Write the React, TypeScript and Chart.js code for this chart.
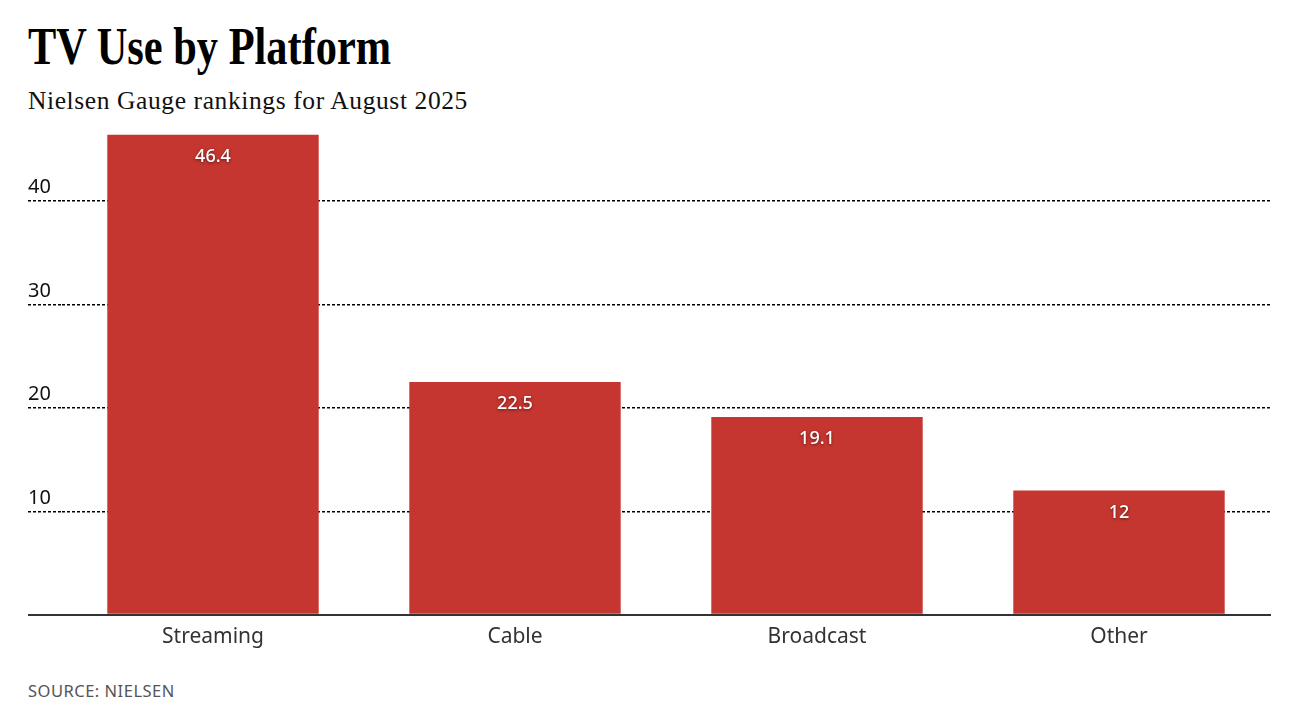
import React, { useEffect, useRef } from "react";
import { Chart, registerables } from "chart.js";

Chart.register(...registerables);

const categories = ["Streaming", "Cable", "Broadcast", "Other"];
const shares = [46.4, 22.5, 19.1, 12];
const yTickValues = [0, 10, 20, 30, 40];
const yMax = 46.4;

const BAR = "#C4362F";
const SANS = "'Noto Sans', 'Open Sans', sans-serif";

const overlayPlugin = {
  id: "overlay",
  afterDatasetsDraw(chart: any) {
    const ctx = chart.ctx;
    const meta = chart.getDatasetMeta(0);
    ctx.save();
    ctx.font = `500 18px ${SANS}`;
    ctx.fillStyle = "#ffffff";
    ctx.textAlign = "center";
    ctx.textBaseline = "middle";
    ctx.shadowColor = "rgba(0,0,0,0.55)";
    ctx.shadowBlur = 3;
    ctx.shadowOffsetY = 1;
    meta.data.forEach((el: any, i: number) => {
      ctx.fillText(String(shares[i]), el.x, el.y + 22);
    });
    ctx.restore();
  },
  afterDraw(chart: any) {
    const ctx = chart.ctx;
    const y = chart.scales.y;
    ctx.save();
    ctx.font = `400 20px ${SANS}`;
    ctx.fillStyle = "#111111";
    ctx.textAlign = "left";
    ctx.textBaseline = "middle";
    y.ticks.forEach((t: any) => {
      if (t.value > 0) ctx.fillText(String(t.value), 28, y.getPixelForValue(t.value) - 13);
    });
    ctx.restore();
  },
};

export default function App() {
  const ref = useRef<HTMLCanvasElement>(null);
  useEffect(() => {
    document.body.style.margin = "0";
    const chart = new Chart(ref.current!, {
      type: "bar",
      data: {
        labels: categories,
        datasets: [
          {
            data: shares,
            backgroundColor: BAR,
            categoryPercentage: 0.7,
            barPercentage: 1,
          },
        ],
      },
      options: {
        animation: false,
        responsive: false,
        maintainAspectRatio: false,
        layout: { padding: { left: 28, right: 40, top: 14.5, bottom: 6 } },
        plugins: { legend: { display: false }, tooltip: { enabled: false } },
        scales: {
          x: {
            z: 1,
            grid: { display: false },
            border: { display: true, color: "#333333", width: 2 },
            ticks: {
              color: "#333333",
              padding: 2,
              font: { family: SANS, size: 21 },
            },
          },
          y: {
            min: 0,
            max: yMax,
            afterBuildTicks: (scale: any) => {
              scale.ticks = yTickValues.map((v) => ({ value: v }));
            },
            ticks: { display: false },
            border: {
              display: false,
              dash: (c: any) => (c.tick && c.tick.value === 0 ? [] : [3, 2]),
            },
            grid: {
              color: (c: any) => (c.tick && c.tick.value === 0 ? "#333333" : "#000000"),
              lineWidth: (c: any) => (c.tick && c.tick.value === 0 ? 2 : 1.4),
              tickLength: 34,
              tickBorderDash: (c: any) => (c.tick && c.tick.value === 0 ? [] : [3, 2]),
            },
          },
        },
      },
      plugins: [overlayPlugin],
    });
    return () => chart.destroy();
  }, []);

  return (
    <div style={{ position: "relative", width: 1310, height: 720, background: "#fff" }}>
      <div
        style={{
          position: "absolute",
          left: 28,
          top: 14,
          fontFamily: "'Liberation Serif', 'Times New Roman', serif",
          fontWeight: 700,
          fontSize: 53,
          lineHeight: "64px",
          whiteSpace: "nowrap",
          transform: "scaleX(0.8)",
          transformOrigin: "left top",
          color: "#000",
        }}
      >
        TV Use by Platform
      </div>
      <div
        style={{
          position: "absolute",
          left: 28,
          top: 85,
          fontFamily: "'Liberation Serif', 'Times New Roman', serif",
          fontSize: 25.5,
          letterSpacing: 0.6,
          lineHeight: "32px",
          whiteSpace: "nowrap",
          color: "#111",
        }}
      >
        Nielsen Gauge rankings for August 2025
      </div>
      <canvas
        ref={ref}
        width={1310}
        height={538}
        style={{ position: "absolute", left: 0, top: 120, width: 1310, height: 538 }}
      />
      <div
        style={{
          position: "absolute",
          left: 28,
          top: 681,
          fontFamily: SANS,
          fontSize: 16.5,
          letterSpacing: 0.5,
          lineHeight: "20px",
          color: "#555",
          whiteSpace: "nowrap",
        }}
      >
        SOURCE: NIELSEN
      </div>
    </div>
  );
}
